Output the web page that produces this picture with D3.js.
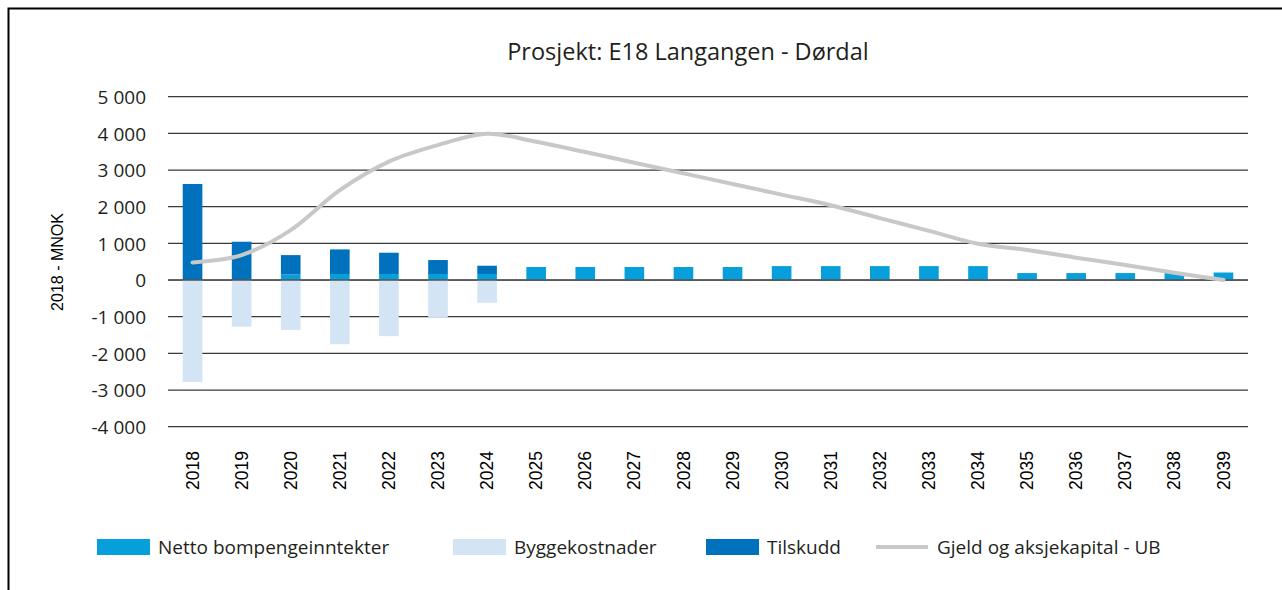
<!DOCTYPE html>
<html>
<head>
<meta charset="utf-8">
<script src="https://cdn.jsdelivr.net/npm/d3@7"></script>
<style>
  html, body { margin: 0; padding: 0; background: #fff; }
  svg { display: block; }
</style>
</head>
<body>
<svg id="chart" width="1282" height="590"></svg>
<script>
const years = ["2018","2019","2020","2021","2022","2023","2024","2025","2026","2027","2028","2029","2030","2031","2032","2033","2034","2035","2036","2037","2038","2039"];
const netto = [0, 0, 150, 165, 165, 165, 165, 355, 355, 355, 355, 355, 380, 380, 380, 380, 380, 190, 190, 190, 190, 205];
const bygge = [-2780, -1270, -1360, -1750, -1530, -1020, -620, 0, 0, 0, 0, 0, 0, 0, 0, 0, 0, 0, 0, 0, 0, 0];
const tilskudd = [2620, 1045, 530, 670, 580, 380, 225, 0, 0, 0, 0, 0, 0, 0, 0, 0, 0, 0, 0, 0, 0, 0];
const gjeld = [480, 680, 1360, 2450, 3230, 3680, 3990, 3770, 3490, 3200, 2910, 2620, 2330, 2040, 1690, 1340, 990, 820, 610, 410, 200, 0];
const yTicks = [5000, 4000, 3000, 2000, 1000, 0, -1000, -2000, -3000, -4000];
const seriesNames = ["Netto bompengeinntekter", "Byggekostnader", "Tilskudd", "Gjeld og aksjekapital - UB"];
const title = "Prosjekt: E18 Langangen - Dørdal";
const yTitle = "2018 - MNOK";

const colors = { netto: "#079fdb", bygge: "#d3e4f4", tilskudd: "#0071bc", gjeld: "#c8c8c8" };
const mainFont = "'Open Sans', sans-serif";
const axisFont = "'Liberation Sans', Arial, sans-serif";

const svg = d3.select("#chart");

// frame
svg.append("rect").attr("x", 8.5).attr("y", 8.5).attr("width", 1280).attr("height", 600)
  .attr("fill", "none").attr("stroke", "#000").attr("stroke-width", 2);

const x = d3.scaleBand().domain(years).range([168, 1248]).paddingInner(0.6).paddingOuter(0.3);
const y = d3.scaleLinear().domain([-4000, 5000]).range([426.7, 96.7]);

// gridlines + y labels
const fmt = v => (v < 0 ? "-" : "") + d3.format(",")(Math.abs(v)).replace(/,/g, " ");
const yAxis = d3.axisLeft(y).tickValues(yTicks).tickSize(0).tickPadding(0).tickFormat(fmt);
const gy = svg.append("g").attr("transform", "translate(146,0)").call(yAxis);
gy.select(".domain").remove();
gy.selectAll("text").attr("font-family", mainFont).attr("font-size", 19).attr("fill", "#231f20").attr("dy", "0.35em");

svg.append("g").selectAll("line").data(yTicks).join("line")
  .attr("x1", 168).attr("x2", 1248)
  .attr("y1", d => y(d)).attr("y2", d => y(d))
  .attr("stroke", "#3a3a3a").attr("stroke-width", 1.3);

// bars
const bw = x.bandwidth();
const barG = svg.append("g");
barG.selectAll(".bygge").data(years).join("rect")
  .attr("x", d => x(d)).attr("width", bw)
  .attr("y", (d, i) => y(0)).attr("height", (d, i) => y(bygge[i]) - y(0))
  .attr("fill", colors.bygge);
barG.selectAll(".netto").data(years).join("rect")
  .attr("x", d => x(d)).attr("width", bw)
  .attr("y", (d, i) => y(netto[i])).attr("height", (d, i) => y(0) - y(netto[i]))
  .attr("fill", colors.netto);
barG.selectAll(".tilskudd").data(years).join("rect")
  .attr("x", d => x(d)).attr("width", bw)
  .attr("y", (d, i) => y(netto[i] + tilskudd[i])).attr("height", (d, i) => y(netto[i]) - y(netto[i] + tilskudd[i]))
  .attr("fill", colors.tilskudd);

// zero line on top
svg.append("line").attr("x1", 168).attr("x2", 1248).attr("y1", y(0)).attr("y2", y(0))
  .attr("stroke", "#555").attr("stroke-width", 1.5);

// line
const line = d3.line()
  .x((d, i) => x(years[i]) + bw / 2)
  .y(d => y(d))
  .curve(d3.curveCatmullRom.alpha(0.5));
svg.append("path").datum(gjeld).attr("d", line)
  .attr("fill", "none").attr("stroke", colors.gjeld).attr("stroke-width", 4).attr("stroke-linecap", "round");

// x labels
const xAxis = d3.axisBottom(x).tickSize(0).tickPadding(0);
const gx = svg.append("g").call(xAxis);
gx.select(".domain").remove();
gx.selectAll("text")
  .attr("font-family", axisFont).attr("font-size", 17.5).attr("fill", "#000")
  .attr("transform", d => `translate(${x(d) + bw / 2},490) rotate(-90)`)
  .attr("x", 0).attr("y", 0).attr("dy", "0.35em").attr("text-anchor", "start");
gx.selectAll(".tick").attr("transform", null);

// title
svg.append("text").attr("x", 688).attr("y", 60).attr("text-anchor", "middle")
  .attr("font-family", mainFont).attr("font-size", 23.5).attr("fill", "#231f20").text(title);

// y title
svg.append("text").attr("transform", "translate(63,262) rotate(-90)").attr("text-anchor", "middle")
  .attr("font-family", axisFont).attr("font-size", 16).attr("fill", "#000").text(yTitle);

// legend
const legendX = [97, 453, 706, 876];
const leg = svg.append("g");
seriesNames.forEach((name, i) => {
  const lx = legendX[i];
  if (i < 3) {
    const c = [colors.netto, colors.bygge, colors.tilskudd][i];
    leg.append("rect").attr("x", lx).attr("y", 539).attr("width", 53).attr("height", 16).attr("fill", c);
  } else {
    leg.append("line").attr("x1", lx).attr("x2", lx + 52).attr("y1", 547).attr("y2", 547)
      .attr("stroke", colors.gjeld).attr("stroke-width", 4);
  }
  leg.append("text").attr("x", lx + 61).attr("y", 547).attr("dy", "0.35em")
    .attr("font-family", mainFont).attr("font-size", 19).attr("fill", "#231f20").text(name);
});
</script>
</body>
</html>
